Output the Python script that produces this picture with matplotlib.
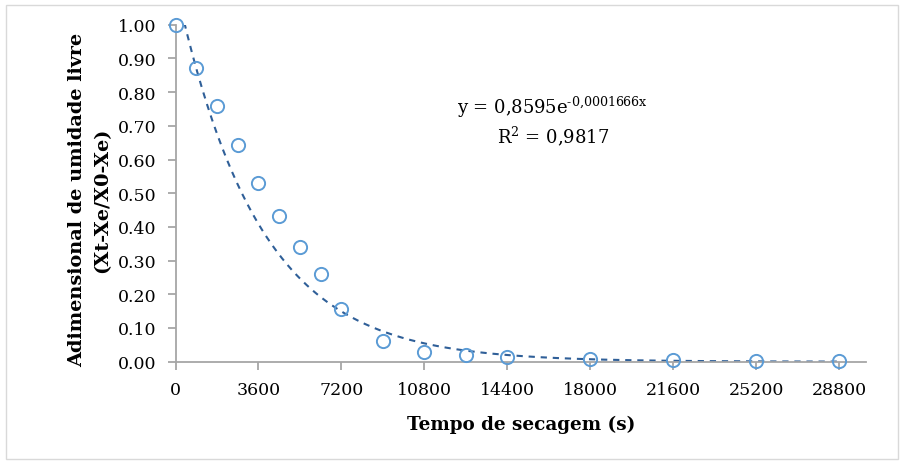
import numpy as np
import matplotlib

matplotlib.use("Agg")
import matplotlib.pyplot as plt
from matplotlib.patches import Rectangle

# ── Data ─────────────────────────────────────────────────────────
tempo_s = [0, 900, 1800, 2700, 3600, 4500, 5400, 6300, 7200,
           9000, 10800, 12600, 14400, 18000, 21600, 25200, 28800]
umidade = [1.00, 0.872, 0.758, 0.642, 0.530, 0.433, 0.341, 0.260, 0.155,
           0.060, 0.030, 0.019, 0.013, 0.007, 0.004, 0.002, 0.001]

x_ticks = [0, 3600, 7200, 10800, 14400, 18000, 21600, 25200, 28800]
y_ticks = [0.0, 0.1, 0.2, 0.3, 0.4, 0.5, 0.6, 0.7, 0.8, 0.9, 1.0]

# trendline as drawn in the picture: y = a * exp(-b * x)
TREND_A = 1.12
TREND_B = 2.8e-4

EQ_TEXT = "y = 0,8595e$^{\\mathregular{\u20100{,}0001666x}}$"
R2_TEXT = r"R$^{\mathregular{2}}$ = 0,9817"
Y_LABEL = "Adimensional de umidade livre\n(Xt-Xe/X0-Xe)"
X_LABEL = "Tempo de secagem (s)"

# ── Style ────────────────────────────────────────────────────────
plt.rcParams["font.family"] = ["DejaVu Serif"]
plt.rcParams["mathtext.fontset"] = "dejavuserif"
AXIS_GRAY = "#A6A6A6"
POINT_BLUE = "#5B9BD5"
TREND_BLUE = "#2F5F98"

fig = plt.figure(figsize=(9.02, 4.64), dpi=100)
fig.patches.append(Rectangle((6 / 902, 4 / 464), 892 / 902, 454 / 464,
                             transform=fig.transFigure, fill=False,
                             edgecolor="#D9D9D9", linewidth=1.0))

ax = fig.add_axes([175.5 / 902, 101.3 / 464, (866 - 175.5) / 902, (362.7 - 25.7) / 464])

xs = np.linspace(0, 28800, 400)
ax.plot(xs, TREND_A * np.exp(-TREND_B * xs), linestyle=(0, (3.0, 2.8)),
        color=TREND_BLUE, linewidth=1.5, zorder=2)
ax.plot(tempo_s, umidade, linestyle="none", marker="o", markersize=9.5,
        markerfacecolor="none", markeredgecolor=POINT_BLUE,
        markeredgewidth=1.4, clip_on=False, zorder=3)

ax.set_xlim(0, 29970)
ax.set_ylim(0, 1.0)
ax.set_xticks(x_ticks)
ax.set_xticklabels([str(t) for t in x_ticks])
ax.set_yticks(y_ticks)
ax.set_yticklabels([f"{t:.2f}" for t in y_ticks])

for side in ("top", "right"):
    ax.spines[side].set_visible(False)
for side in ("left", "bottom"):
    ax.spines[side].set_color(AXIS_GRAY)
    ax.spines[side].set_linewidth(1.3)
ax.tick_params(axis="both", colors=AXIS_GRAY, length=6, width=1.3,
               labelcolor="black", labelsize=12.5)
ax.tick_params(axis="x", pad=8)
ax.tick_params(axis="y", pad=8)

ax.set_xlabel(X_LABEL, fontsize=13.2, fontweight="bold", labelpad=12)
fig.text(100 / 902, 1 - 200 / 464, Y_LABEL, rotation=90, rotation_mode="anchor",
         ha="center", va="baseline", multialignment="center",
         fontsize=13.9, fontweight="bold", linespacing=1.55)

fig.text(552 / 902, 1 - 107 / 464, EQ_TEXT, ha="center", va="center", fontsize=13)
fig.text(553 / 902, 1 - 136 / 464, R2_TEXT, ha="center", va="center", fontsize=13)

fig.savefig("out.png", dpi=100)
